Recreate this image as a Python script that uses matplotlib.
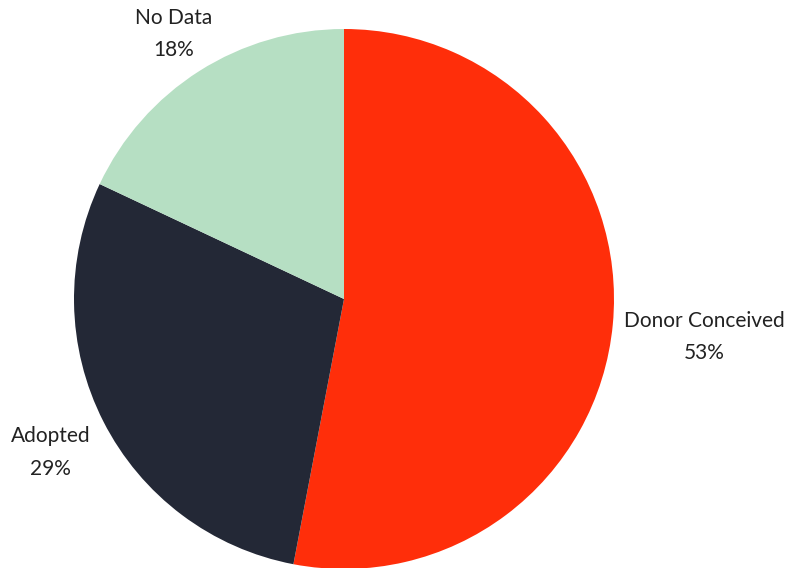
import matplotlib
matplotlib.use("Agg")
import matplotlib.pyplot as plt
import numpy as np

categories = ["Donor Conceived", "Adopted", "No Data"]
values = [53, 29, 18]
colors = ["#FF2E0A", "#232836", "#B6DFC3"]
label_dist = [1.34, 1.22, 1.18]

plt.rcParams['font.family'] = ['Lato', 'DejaVu Sans']

fig = plt.figure(figsize=(8.03, 5.68), dpi=100)
ax = fig.add_axes([0, 0, 1, 1])
R = 270.0
cx, cy = 344.0, 568 - 299.0
ax.axis('off')

wedges, _ = ax.pie(values, colors=colors, startangle=90, counterclock=False,
                   radius=1.0, center=(0, 0), frame=False,
                   wedgeprops=dict(linewidth=0))
ax.set_xlim(-cx / R, (803 - cx) / R)
ax.set_ylim(-cy / R, (568 - cy) / R)
ax.set_aspect('auto')

total = sum(values)
for w, cat, v, d in zip(wedges, categories, values, label_dist):
    ang = np.deg2rad((w.theta1 + w.theta2) / 2)
    x, y = d * np.cos(ang), d * np.sin(ang)
    ax.annotate(f"{cat}\n{round(v / total * 100)}%", xy=(x, y), xytext=(0, -3),
                textcoords='offset points', ha='center', va='center',
                fontsize=15, color='#222222', linespacing=1.78)

fig.savefig("out.png", dpi=100)
